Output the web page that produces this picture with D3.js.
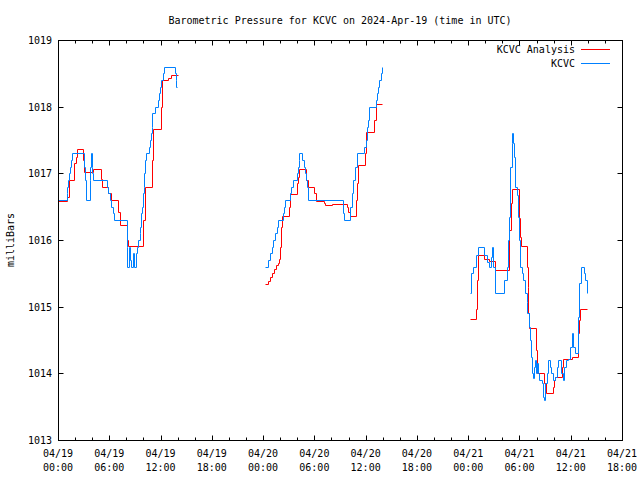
<!DOCTYPE html>
<html>
<head>
<meta charset="utf-8">
<script src="https://cdn.jsdelivr.net/npm/d3@7"></script>
<style>
  html, body { margin: 0; padding: 0; background: #fff; }
  svg { display: block; }
  text { font-family: "DejaVu Sans Mono", "Liberation Mono", monospace; font-size: 10px; fill: #000; }
</style>
</head>
<body>
<script>
// ---- DATA (hours since 2024-04-19 00:00 UTC, pressure in mb) ----
const title = "Barometric Pressure for KCVC on 2024-Apr-19 (time in UTC)";
const yLabel = "milliBars";
const seriesNames = ["KCVC Analysis", "KCVC"];
const seriesColors = ["#ff0000", "#0080ff"];
const yTicks = [1013, 1014, 1015, 1016, 1017, 1018, 1019];
const startTime = "2024-04-19T00:00:00Z";
const endTime = "2024-04-21T18:00:00Z";

const analysis1 = [[0,1016.58],[1.0,1016.65],[1.25,1016.9],[1.9,1017.15],[2.1,1017.25],[2.25,1017.37],[2.96,1017.2],[3.1,1017.02],[4.13,1017.07],[5.0,1016.91],[5.2,1016.79],[5.83,1016.7],[6.2,1016.6],[6.99,1016.42],[7.25,1016.22],[8.11,1016.0],[8.23,1015.91],[9.98,1016.3],[10.15,1016.8],[10.96,1017.2],[11.17,1017.67],[12.06,1018.0],[12.2,1018.4],[12.92,1018.43],[13.2,1018.48],[14.0,1018.48]];
const analysis2 = [[24.22,1015.34],[24.61,1015.38],[24.85,1015.45],[25.05,1015.5],[25.25,1015.56],[25.5,1015.62],[25.7,1015.66],[25.9,1015.72],[25.98,1015.9],[26.1,1016.2],[26.25,1016.36],[27.03,1016.5],[27.15,1016.69],[27.93,1016.85],[28.1,1016.95],[28.24,1017.06],[29.02,1016.9],[29.29,1016.79],[29.96,1016.7],[30.2,1016.58],[31.13,1016.55],[31.25,1016.52],[32.03,1016.54],[33.78,1016.5],[33.95,1016.42],[34.17,1016.36],[34.87,1016.6],[35.0,1016.85],[35.1,1017.12],[35.93,1017.3],[36.1,1017.62],[36.98,1017.8],[37.2,1018.04],[37.88,1018.04]];
const analysis3 = [[48.22,1014.81],[48.88,1014.96],[49.0,1015.4],[49.15,1015.78],[49.89,1015.72],[50.47,1015.68],[51.14,1015.55],[52.82,1016.15],[52.98,1016.55],[53.1,1016.76],[53.91,1016.33],[54.1,1016.05],[54.22,1015.91],[54.85,1015.6],[54.95,1015.3],[55.05,1014.9],[55.15,1014.68],[55.94,1014.35],[56.1,1014.0],[56.91,1013.85],[57.1,1013.7],[57.89,1013.8],[58.05,1013.9],[58.2,1013.95],[58.95,1014.1],[59.1,1014.22],[60.12,1014.25],[60.82,1014.6],[60.95,1014.8],[61.1,1014.96],[61.87,1014.96]];

const obs1 = [[0,1016.6],[1.02,1016.7],[1.1,1016.8],[1.18,1016.9],[1.27,1017.0],[1.38,1017.1],[1.5,1017.2],[1.62,1017.3],[3.08,1017.1],[3.16,1016.9],[3.24,1016.6],[3.71,1016.9],[3.78,1017.1],[3.86,1017.3],[3.94,1017.1],[4.02,1017.0],[4.13,1016.9],[5.7,1016.8],[5.9,1016.7],[6.05,1016.6],[6.2,1016.5],[6.38,1016.4],[6.55,1016.3],[8.04,1015.9],[8.12,1015.6],[8.3,1015.9],[8.45,1015.7],[8.58,1015.6],[8.75,1015.8],[8.9,1015.6],[9.1,1015.8],[9.25,1015.9],[9.4,1016.0],[9.55,1016.1],[9.65,1016.2],[9.75,1016.4],[9.85,1016.5],[9.95,1016.7],[10.03,1016.8],[10.1,1017.0],[10.18,1017.2],[10.26,1017.3],[10.65,1017.4],[10.75,1017.5],[10.85,1017.6],[10.95,1017.7],[11.04,1017.9],[11.3,1018.0],[11.75,1018.1],[11.85,1018.2],[11.97,1018.3],[12.1,1018.4],[12.25,1018.5],[12.45,1018.6],[13.66,1018.5],[13.75,1018.4],[13.85,1018.3],[13.95,1018.3]];
const obs2 = [[24.22,1015.6],[24.61,1015.7],[24.81,1015.8],[25.0,1015.9],[25.2,1016.0],[25.4,1016.1],[25.6,1016.2],[25.8,1016.3],[26.3,1016.4],[26.42,1016.5],[26.55,1016.6],[27.15,1016.7],[27.32,1016.8],[27.53,1016.9],[27.93,1017.0],[28.03,1017.1],[28.15,1017.2],[28.24,1017.3],[28.59,1017.2],[28.73,1017.1],[28.87,1017.0],[29.02,1016.9],[29.14,1016.8],[29.29,1016.6],[33.32,1016.4],[33.45,1016.3],[34.17,1016.5],[34.35,1016.7],[34.55,1016.9],[34.75,1017.1],[34.95,1017.3],[35.85,1017.4],[36.0,1017.5],[36.15,1017.7],[36.3,1017.8],[36.45,1018.0],[37.21,1018.1],[37.35,1018.2],[37.5,1018.3],[37.62,1018.4],[37.75,1018.5],[37.88,1018.6]];
const obs3 = [[48.22,1015.2],[48.33,1015.5],[48.6,1015.6],[48.92,1015.78],[49.12,1015.9],[49.85,1015.78],[50.17,1015.67],[50.47,1015.6],[50.67,1015.75],[50.83,1015.9],[50.94,1015.6],[51.14,1015.2],[52.23,1015.4],[52.51,1015.6],[52.7,1016.0],[52.82,1016.35],[52.9,1017.1],[53.1,1017.45],[53.17,1017.6],[53.28,1017.45],[53.4,1017.25],[53.52,1016.8],[53.68,1016.67],[53.87,1016.35],[53.99,1016.0],[54.07,1015.6],[54.3,1015.5],[54.45,1015.4],[54.65,1015.2],[54.85,1015.07],[54.92,1014.9],[55.08,1014.7],[55.24,1014.5],[55.35,1014.25],[55.47,1014.0],[55.62,1013.93],[55.7,1014.1],[55.82,1014.2],[55.94,1014.0],[56.09,1014.15],[56.21,1014.0],[56.32,1013.9],[56.6,1013.85],[56.79,1013.65],[56.91,1013.6],[56.99,1013.85],[57.19,1014.0],[57.38,1014.2],[57.58,1014.1],[57.69,1014.0],[57.89,1013.9],[58.12,1013.95],[58.36,1014.1],[58.55,1014.2],[58.87,1014.0],[59.06,1013.9],[59.22,1014.1],[59.45,1014.2],[59.72,1014.22],[59.92,1014.4],[60.12,1014.6],[60.31,1014.4],[60.5,1014.3],[60.89,1014.85],[61.0,1015.35],[61.17,1015.6],[61.59,1015.5],[61.7,1015.4],[61.87,1015.2]];

const analysisSegments = [analysis1, analysis2, analysis3];
const obsSegments = [obs1, obs2, obs3];

// ---- CHART ----
const W = 640, H = 480;
const margin = { left: 58, right: 18, top: 40, bottom: 40 };
const t0 = new Date(startTime), t1 = new Date(endTime);
const hourToDate = h => new Date(t0.getTime() + h * 3600 * 1000);
const snap = v => Math.round(v) + 0.5;

const svg = d3.select("body").append("svg").attr("width", W).attr("height", H);

const x = d3.scaleUtc().domain([t0, t1]).range([margin.left, W - margin.right]);
const y = d3.scaleLinear().domain([1013, 1019]).range([H - margin.bottom, margin.top]);

const X0 = margin.left, X1 = W - margin.right, Y0 = margin.top, Y1 = H - margin.bottom;

const majorTicks = d3.utcHour.every(6).range(t0, new Date(t1.getTime() + 1));
const minorTicks = d3.utcHour.every(2).range(t0, new Date(t1.getTime() + 1))
  .filter(d => d.getUTCHours() % 6 !== 0);

// ticks (inward, mirrored)
const tickG = svg.append("g").attr("stroke", "#000").attr("stroke-width", 1);
const addTick = (x1, y1, x2, y2) => tickG.append("line")
  .attr("x1", snap(x1)).attr("y1", snap(y1)).attr("x2", snap(x2)).attr("y2", snap(y2));
majorTicks.forEach(d => {
  const px = x(d);
  addTick(px, Y1, px, Y1 - 5);
  addTick(px, Y0, px, Y0 + 5);
});
minorTicks.forEach(d => {
  const px = x(d);
  addTick(px, Y1, px, Y1 - 3);
  addTick(px, Y0, px, Y0 + 3);
});
yTicks.forEach(v => {
  const py = y(v);
  addTick(X0, py, X0 + 5, py);
  addTick(X1, py, X1 - 5, py);
});

// tick labels
const fmtDate = d3.utcFormat("%m/%d"), fmtTime = d3.utcFormat("%H:%M");
majorTicks.forEach(d => {
  const px = x(d);
  svg.append("text").attr("x", px).attr("y", 457).attr("text-anchor", "middle").text(fmtDate(d));
  svg.append("text").attr("x", px).attr("y", 471).attr("text-anchor", "middle").text(fmtTime(d));
});
yTicks.forEach(v => {
  svg.append("text").attr("x", 52).attr("y", y(v) + 4).attr("text-anchor", "end").text(v);
});

// lines (pixel-snapped step lines)
const line = d3.line()
  .x(d => snap(x(hourToDate(d[0]))))
  .y(d => snap(y(d[1])))
  .curve(d3.curveStepAfter);

const lineG = svg.append("g").attr("fill", "none").attr("stroke-width", 1);
analysisSegments.forEach(seg => lineG.append("path").attr("d", line(seg)).attr("stroke", seriesColors[0]));
obsSegments.forEach(seg => lineG.append("path").attr("d", line(seg)).attr("stroke", seriesColors[1]));

// border
svg.append("rect").attr("x", X0 + 0.5).attr("y", Y0 + 0.5).attr("width", X1 - X0).attr("height", Y1 - Y0)
  .attr("fill", "none").attr("stroke", "#000");

// title & y label
svg.append("text").attr("x", (X0 + X1) / 2).attr("y", 24).attr("text-anchor", "middle").text(title);
svg.append("text").attr("transform", `translate(14,${(Y0 + Y1) / 2}) rotate(-90)`)
  .attr("text-anchor", "middle").text(yLabel);

// legend
seriesNames.forEach((name, i) => {
  const ly = 49 + i * 14;
  svg.append("text").attr("x", 575).attr("y", ly + 4).attr("text-anchor", "end").text(name);
  svg.append("line").attr("x1", 581).attr("x2", 610).attr("y1", ly + 0.5).attr("y2", ly + 0.5)
    .attr("stroke", seriesColors[i]).attr("stroke-width", 1);
});
</script>
</body>
</html>
